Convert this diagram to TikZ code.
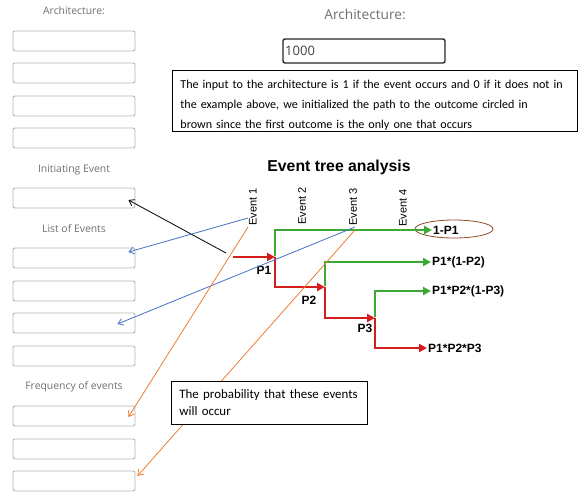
\documentclass[tikz,border=0pt]{standalone}
\usepackage{fontspec}
\setmainfont{Carlito}
\newfontfamily\uifont{Open Sans}
\newfontfamily\arialfont{Liberation Sans}
\usetikzlibrary{arrows.meta,shapes.geometric,calc}

\definecolor{fieldgray}{HTML}{B5B5B5}
\definecolor{labelgray}{HTML}{707070}
\definecolor{treered}{HTML}{D41E1E}
\definecolor{treegreen}{HTML}{3DA935}
\definecolor{noteblue}{HTML}{4472C4}
\definecolor{noteorange}{HTML}{ED7D31}
\definecolor{ringbrown}{HTML}{8E4A26}

\tikzset{
  field/.style={draw=fieldgray, line width=0.9pt, rounded corners=2pt,
    minimum width=122pt, minimum height=20pt, inner sep=0pt},
  uilabel/.style={font=\uifont\fontsize{10.4}{12}\selectfont, text=labelgray},
  notebox/.style={draw, line width=0.8pt, anchor=north west, align=left,
    inner xsep=8pt, inner ysep=0pt},
  evlabel/.style={font=\arialfont\fontsize{11}{13}\selectfont, rotate=90,
    anchor=west, inner sep=0pt},
  outcome/.style={font=\arialfont\bfseries\fontsize{12}{14}\selectfont,
    anchor=west, inner sep=1pt},
  plabel/.style={font=\arialfont\bfseries\fontsize{12}{14}\selectfont},
  yes/.style={treegreen, line width=2.6pt, -{Triangle[length=8pt,width=8pt]}},
  no/.style={treered, line width=2.6pt, -{Triangle[length=8pt,width=8pt]}},
  link/.style={line width=0.8pt, -{Straight Barb[length=5pt,width=7pt]}}
}

\begin{document}
\begin{tikzpicture}[x=1pt,y=-1pt]
\useasboundingbox (0,0) rectangle (583,496);

% left column of input fields
\node[uilabel] (archlbl) at (74,11) {Architecture:};
\foreach \y [count=\i] in {31,63,96,128,188,248,281,313,346,406,439,471}
  \node[field] (f\i) at (74,\y+10) {};
\node[uilabel] (initlbl) at (74,170) {Initiating Event};
\node[uilabel] (listlbl) at (74,229) {List of Events};
\node[uilabel] (freqlbl) at (74,387) {Frequency of events};

% architecture input
\node[font=\uifont\fontsize{13.7}{16}\selectfont, text=labelgray] (archtitle) at (365,14) {Architecture:};
\node[draw=black!85, line width=1.4pt, rounded corners=2pt, minimum width=162pt,
  minimum height=24pt, inner sep=0pt] (archbox) at (364,51) {};
\node[font=\uifont\fontsize{13}{15}\selectfont, text=black!75, anchor=west,
  inner sep=0pt] (archval) at (285,51) {1000};

\node[notebox, minimum width=405pt, minimum height=61pt, text width=389pt,
  font=\fontsize{12.1}{20}\selectfont] (note1) at (172,70)
  {\rule{0pt}{17pt}The input to the architecture is 1 if the event occurs and 0 if it does not in\\
   the example above, we initialized the path to the outcome circled in\\
   brown since the first outcome is the only one that occurs};

% event tree
\node[font=\arialfont\bfseries\fontsize{15.8}{18}\selectfont] (title) at (339,167) {Event tree analysis};
\node[evlabel] (ev1) at (253,226) {Event 1};
\node[evlabel] (ev2) at (302,225) {Event 2};
\node[evlabel] (ev3) at (353,226) {Event 3};
\node[evlabel] (ev4) at (403,227) {Event 4};

\coordinate (start) at (233,257);
\coordinate (j1) at (275,257);
\coordinate (j2) at (325,287);
\coordinate (j3) at (375,318);

\node[outcome] (o1) at (432,230) {1-P1};
\node[outcome] (o2) at (431,262) {P1*(1-P2)};
\node[outcome] (o3) at (431,291) {P1*P2*(1-P3)};
\node[outcome] (o4) at (427,348) {P1*P2*P3};
\node[draw=ringbrown, line width=0.8pt, ellipse, minimum width=78pt,
  minimum height=18pt] (ring) at (454,229) {};

\draw[no] (start) -- (j1);
\draw[yes] ([yshift=1.3pt]j1) |- (o1.west);
\draw[no] (j1) |- (j2);
\draw[yes] ([yshift=1.3pt]j2) |- (o2.west);
\draw[no] (j2) |- (j3);
\draw[yes] ([yshift=1.3pt]j3) |- (o3.west);
\draw[no] (j3) |- (o4.west);

\node[plabel] (p1) at (264,270) {P1};
\node[plabel] (p2) at (309,300) {P2};
\node[plabel] (p3) at (365,328) {P3};

% annotation links
\coordinate (blk) at (226,253);
\coordinate (bl1) at (248,218);
\coordinate (bl2) at (355,227);
\coordinate (or1) at (248,227);
\coordinate (or2) at (355,230);
\draw[link, black] (blk) -- ($(f5.east)+(-7,2)$);
\draw[link, noteblue] (bl1) -- ($(f6.east)+(-7,-6)$);
\draw[link, noteblue] (bl2) -- ($(f8.east)+(-18,1)$);
\draw[link, noteorange] (or1) -- ($(f10.east)+(-7,1)$);
\draw[link, noteorange] (or2) -- ($(f12.east)+(2,-5)$);

\node[notebox, minimum width=196pt, minimum height=43pt, text width=180pt,
  font=\fontsize{12.9}{17}\selectfont, fill=white] (note2) at (171,381)
  {The probability that these events\\ will occur};
\end{tikzpicture}
\end{document}
